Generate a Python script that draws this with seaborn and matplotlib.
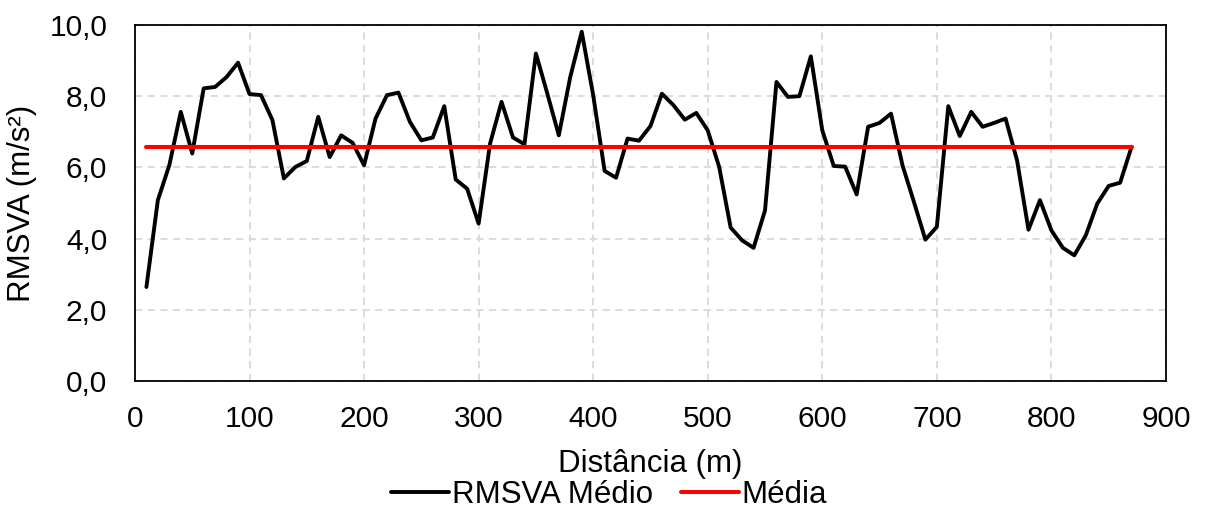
import numpy as np
import pandas as pd
import matplotlib
matplotlib.use("Agg")
import matplotlib.pyplot as plt
import seaborn as sns

# distance along the track (m) and mean RMSVA per 10 m segment (m/s²)
distancia = [10, 20, 30, 40, 50, 60, 70, 80, 90, 100,
             110, 120, 130, 140, 150, 160, 170, 180, 190, 200,
             210, 220, 230, 240, 250, 260, 270, 280, 290, 300,
             310, 320, 330, 340, 350, 360, 370, 380, 390, 400,
             410, 420, 430, 440, 450, 460, 470, 480, 490, 500,
             510, 520, 530, 540, 550, 560, 570, 580, 590, 600,
             610, 620, 630, 640, 650, 660, 670, 680, 690, 700,
             710, 720, 730, 740, 750, 760, 770, 780, 790, 800,
             810, 820, 830, 840, 850, 860, 870]
rmsva_medio = [2.64, 5.08, 6.06, 7.56, 6.39, 8.22, 8.26, 8.54, 8.94, 8.06,
               8.03, 7.33, 5.69, 6.01, 6.18, 7.42, 6.29, 6.90, 6.69, 6.06,
               7.37, 8.03, 8.10, 7.28, 6.76, 6.84, 7.72, 5.66, 5.40, 4.42,
               6.67, 7.84, 6.84, 6.65, 9.20, 8.07, 6.90, 8.54, 9.81, 8.03,
               5.90, 5.71, 6.81, 6.75, 7.16, 8.07, 7.75, 7.34, 7.53, 7.04,
               6.01, 4.31, 3.95, 3.74, 4.79, 8.40, 7.98, 8.00, 9.12, 7.04,
               6.04, 6.02, 5.24, 7.14, 7.25, 7.51, 6.06, 5.03, 3.97, 4.33,
               7.72, 6.88, 7.56, 7.14, 7.25, 7.37, 6.20, 4.25, 5.08, 4.23,
               3.74, 3.53, 4.09, 4.98, 5.48, 5.57, 6.58]
media = 6.58  # overall mean, drawn as a flat line

x_ticks = [0, 100, 200, 300, 400, 500, 600, 700, 800, 900]
y_ticks = [0, 2, 4, 6, 8, 10]
y_tick_labels = ["0,0", "2,0", "4,0", "6,0", "8,0", "10,0"]

sns.set_theme(style="white")
plt.rcParams["font.family"] = ["Liberation Sans", "DejaVu Sans"]
plt.rcParams["text.color"] = "black"
plt.rcParams["axes.labelcolor"] = "black"

df = pd.DataFrame({"Distância (m)": distancia, "RMSVA Médio": rmsva_medio})
df["Média"] = media

fig = plt.figure(figsize=(12.06, 5.09), dpi=100)
ax = fig.add_axes([0.1119, 0.2515, 0.8549, 0.6994])

sns.lineplot(data=df, x="Distância (m)", y="RMSVA Médio", color="black",
             linewidth=2.8, label="RMSVA Médio", ax=ax)
sns.lineplot(data=df, x="Distância (m)", y="Média", color="#ff0000",
             linewidth=2.9, label="Média", ax=ax)

ax.set_xlim(0, 900)
ax.set_ylim(0, 10)
ax.set_xticks(x_ticks)
ax.set_yticks(y_ticks)
ax.set_yticklabels(y_tick_labels)
ax.tick_params(axis="both", length=0, labelsize=21.5, colors="black")
ax.tick_params(axis="x", pad=17)
ax.tick_params(axis="y", pad=20)

# Excel style dashed grid and plain black frame
ax.grid(True, color="#d9d9d9", linestyle=(0, (4, 3)), linewidth=1.3)
ax.set_axisbelow(True)
for sp in ax.spines.values():
    sp.set_visible(True)
    sp.set_color("black")
    sp.set_linewidth(1.3)

ax.set_xlabel("Distância (m)", fontsize=22.5, labelpad=12)
ax.set_ylabel("RMSVA (m/s²)", fontsize=22.5, labelpad=9)

ax.legend_.remove()
h, l = ax.get_legend_handles_labels()
fig.legend(h, l, loc="center", bbox_to_anchor=(0.505, 0.028), ncol=2,
           frameon=False, fontsize=22.5, handlelength=1.85, handletextpad=0.1,
           columnspacing=0.9, borderpad=0, borderaxespad=0)

fig.savefig("out.png", dpi=100)
